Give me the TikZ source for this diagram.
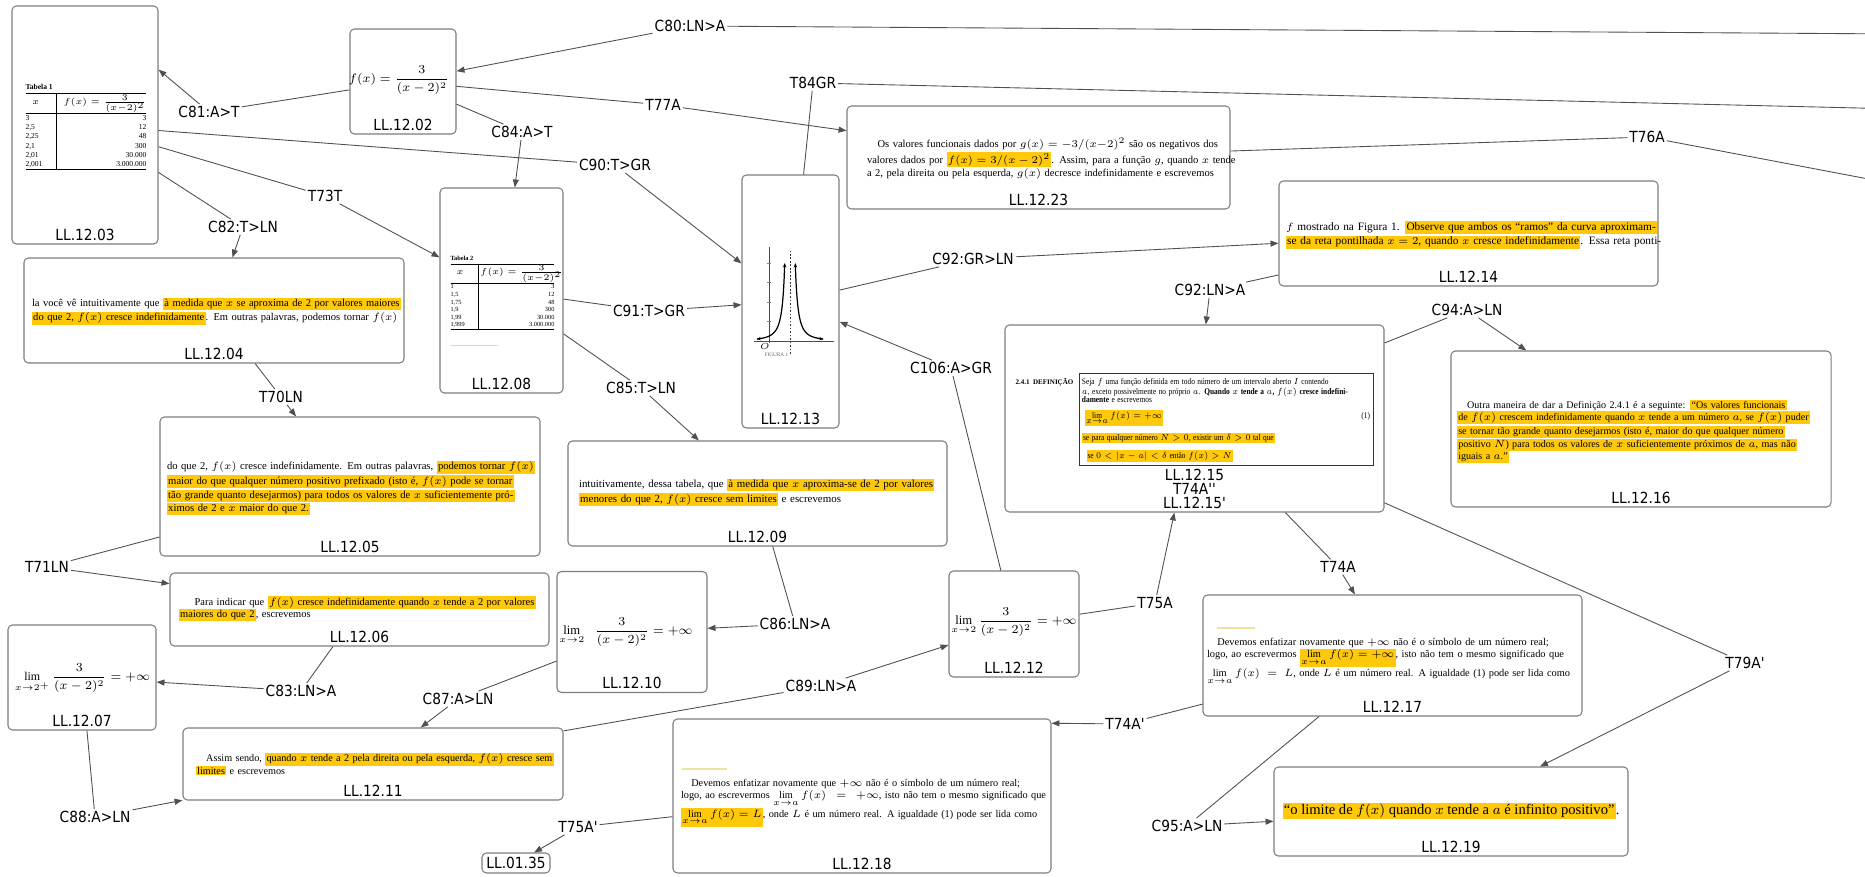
\documentclass[tikz,border=0pt]{standalone}
\usepackage{fontspec}
\usepackage{amsmath}
\usepackage{array}
\usepackage{xcolor}
\usetikzlibrary{arrows.meta, positioning, calc}
\setmainfont{Liberation Serif}
\newfontfamily\lblfont[FakeStretch=0.9]{DejaVu Sans}
\newfontfamily\bookfont[Ligatures=TeX]{Liberation Serif}
\definecolor{cmapLine}{RGB}{80,80,80}
\definecolor{cmapBorder}{RGB}{125,125,125}
\definecolor{cmapYellow}{RGB}{255,200,10}
\definecolor{cmapPale}{RGB}{238,226,160}
\newcommand{\hilite}[1]{{\setlength{\fboxsep}{0.7pt}\colorbox{cmapYellow}{#1}}}
\newcommand{\fullline}[1]{\par\noindent\hbox to \hsize{#1}}
\newcommand{\lastline}[1]{\par\noindent\hbox{#1}}

\begin{document}
\begin{tikzpicture}[
        concept/.style={rectangle, rounded corners=2.5pt, draw=cmapBorder, line width=0.6pt, inner sep=0pt},
        clabel/.style={font={\lblfont\fontsize{8.7}{8}\selectfont}, anchor=south, inner sep=2pt, align=center},
        phrase/.style={font={\lblfont\fontsize{8.7}{9}\selectfont}, inner sep=1pt},
        excerpt/.style={font={\bookfont\fontsize{6}{7.1}\selectfont}, align=left, inner sep=0pt},
        formula/.style={font={\fontsize{7.2}{8.6}\selectfont}, inner sep=0pt},
        tabela/.style={font={\bookfont\fontsize{4.3}{5.2}\selectfont}, align=left, inner sep=0pt},
        conn/.style={cmapLine, line width=0.5pt},
        arrow/.style={conn, -{Triangle[length=4.5pt, width=3.4pt]}}
    ]
        \useasboundingbox (0,0) rectangle (37.3,17.52);
        \fill[white] (0,0) rectangle (37.3,17.52);

        \node[concept, minimum width=2.92cm, minimum height=4.76cm] (ll1203) at (1.70,15.02) {};
        \node[concept, minimum width=2.12cm, minimum height=2.10cm] (ll1202) at (8.06,15.89) {};
        \node[concept, minimum width=7.66cm, minimum height=2.06cm] (ll1223) at (20.77,14.37) {};
        \node[concept, minimum width=2.46cm, minimum height=4.10cm] (ll1208) at (10.03,11.71) {};
        \node[concept, minimum width=1.94cm, minimum height=5.06cm] (ll1213) at (15.81,11.49) {};
        \node[concept, minimum width=7.60cm, minimum height=2.10cm] (ll1204) at (4.28,11.31) {};
        \node[concept, minimum width=7.60cm, minimum height=2.78cm] (ll1205) at (7.00,7.79) {};
        \node[concept, minimum width=7.58cm, minimum height=1.46cm] (ll1206) at (7.19,5.33) {};
        \node[concept, minimum width=2.96cm, minimum height=2.10cm] (ll1207) at (1.64,3.97) {};
        \node[concept, minimum width=7.60cm, minimum height=1.44cm] (ll1211) at (7.46,2.24) {};
        \node[concept, minimum width=3.00cm, minimum height=2.42cm] (ll1210) at (12.64,4.88) {};
        \node[concept, minimum width=7.58cm, minimum height=2.10cm] (ll1209) at (15.15,7.65) {};
        \node[concept, minimum width=2.60cm, minimum height=2.12cm] (ll1212) at (20.28,5.04) {};
        \node[concept, minimum width=7.56cm, minimum height=3.08cm] (ll1218) at (17.24,1.60) {};
        \node[concept, minimum width=7.58cm, minimum height=2.10cm] (ll1214) at (29.37,12.85) {};
        \node[concept, minimum width=7.58cm, minimum height=3.74cm] (ll1215) at (23.89,9.15) {};
        \node[concept, minimum width=7.60cm, minimum height=3.12cm] (ll1216) at (32.82,8.94) {};
        \node[concept, minimum width=7.58cm, minimum height=2.42cm] (ll1217) at (27.85,4.41) {};
        \node[concept, minimum width=7.08cm, minimum height=1.78cm] (ll1219) at (29.02,1.29) {};
        \node[concept, minimum width=1.36cm, minimum height=0.40cm, font={\lblfont\fontsize{8.7}{9}\selectfont}] (ll0135) at (10.32,0.26) {LL.01.35};

        \node[clabel] at (ll1203.south) {LL.12.03};
        \node[clabel] at (ll1202.south) {LL.12.02};
        \node[clabel] at (ll1223.south) {LL.12.23};
        \node[clabel] at (ll1208.south) {LL.12.08};
        \node[clabel] at (ll1213.south) {LL.12.13};
        \node[clabel] at (ll1204.south) {LL.12.04};
        \node[clabel] at (ll1205.south) {LL.12.05};
        \node[clabel] at (ll1206.south) {LL.12.06};
        \node[clabel] at (ll1207.south) {LL.12.07};
        \node[clabel] at (ll1211.south) {LL.12.11};
        \node[clabel] at (ll1210.south) {LL.12.10};
        \node[clabel] at (ll1209.south) {LL.12.09};
        \node[clabel] at (ll1212.south) {LL.12.12};
        \node[clabel] at (ll1218.south) {LL.12.18};
        \node[clabel] at (ll1214.south) {LL.12.14};
        \node[clabel] at (ll1215.south) {LL.12.15\\T74A''\\LL.12.15'};
        \node[clabel] at (ll1216.south) {LL.12.16};
        \node[clabel] at (ll1217.south) {LL.12.17};
        \node[clabel] at (ll1219.south) {LL.12.19};

        \node[formula, font={\fontsize{7}{8.4}\selectfont}] (f1202) at (7.98,15.92) {$f(x)=\dfrac{3}{(x-2)^2}$};
        \node[formula, font={\fontsize{6.8}{8.2}\selectfont}] (f1207) at (1.65,3.96) {$\lim\limits_{x\to2^+}\dfrac{3}{(x-2)^2}=+\infty$};
        \node[formula] (f1210) at (12.52,4.88) {$\lim\limits_{x\to2}\;\;\dfrac{3}{(x-2)^2}=+\infty$};
        \node[formula] (f1212) at (20.28,5.08) {$\lim\limits_{x\to2}\dfrac{3}{(x-2)^2}=+\infty$};

        \node[tabela] (tab1) at (1.72,14.98) {\textbf{Tabela 1}\\[1pt]
            \setlength{\tabcolsep}{1.5pt}%
            \begin{tabular}{@{}>{\raggedright\arraybackslash}p{0.55cm}|>{\raggedleft\arraybackslash}p{1.75cm}@{}}
            \hline
            \hfil$x$\hfil & \mbox{$f(x)=\frac{3}{(x-2)^2}$}\rule[-3pt]{0pt}{9pt}\\
            \noalign{\hrule height 0.6pt}
            3 & 3\\ 2,5 & 12\\ 2,25 & 48\\ 2,1 & 300\\ 2,01 & 30.000\\ 2,001 & 3.000.000\\
            \hline
            \end{tabular}};
        \node[tabela, font={\bookfont\fontsize{3.6}{4.3}\selectfont}] (tab2) at (10.05,11.66) {\textbf{Tabela 2}\\[1pt]
            \setlength{\tabcolsep}{1.2pt}%
            \begin{tabular}{@{}>{\raggedright\arraybackslash}p{0.5cm}|>{\raggedleft\arraybackslash}p{1.48cm}@{}}
            \hline
            \hfil$x$\hfil & \mbox{$f(x)=\frac{3}{(x-2)^2}$}\rule[-2.5pt]{0pt}{7.5pt}\\
            \noalign{\hrule height 0.5pt}
            1 & 3\\ 1,5 & 12\\ 1,75 & 48\\ 1,9 & 300\\ 1,99 & 30.000\\ 1,999 & 3.000.000\\
            \hline
            \end{tabular}};
        \draw[black!15, line width=0.4pt] (9.0,10.62) -- (9.96,10.62);

        \begin{scope}[shift={(15.38,10.70)}, x=0.21cm, y=0.13cm]
            \draw[black!70, line width=0.3pt] (0,-0.3) -- (0,14.5);
            \foreach \k in {3,6,9,12}
                \draw[black!50, line width=0.3pt] (-0.15,\k) -- (0.15,\k);
            \draw[black!70, line width=0.3pt] (-1.4,0) -- (6.2,0);
            \draw[black!80, line width=0.3pt, dash pattern=on 1pt off 1pt] (2,-2) -- (2,13.8);
            \draw[black, line width=0.7pt, {Stealth[length=2.5pt]}-{Stealth[length=2.5pt]}] plot[domain=-1.2:1.5, samples=40, smooth] (\x,{3/((\x-2)^2)});
            \draw[black, line width=0.7pt, {Stealth[length=2.5pt]}-{Stealth[length=2.5pt]}] plot[domain=2.5:5.2, samples=40, smooth] (\x,{3/((\x-2)^2)});
            \node[font={\fontsize{3.5}{3.5}\selectfont}, inner sep=0pt] at (-0.4,-0.8) {$O$};
            \node[font={\fontsize{3}{3}\selectfont}, text=black!60, inner sep=0pt] at (0.7,-2.1) {FIGURA 1};
        \end{scope}

        \node[excerpt, text width=7.0cm] (x1223) at (20.84,14.38) {%
            \fullline{\hspace*{1em}Os valores funcionais dados por $g(x)=-3/(x-2)^2$ são os negativos dos}
            \fullline{valores dados por \hilite{$f(x)=3/(x-2)^2$}. Assim, para a função $g$, quando $x$ tende}
            \fullline{a 2, pela direita ou pela esquerda, $g(x)$ decresce indefinidamente e escrevemos}};
        \node[excerpt, font={\bookfont\fontsize{6.45}{7.3}\selectfont}, text width=7.3cm] (x1214) at (29.37,12.86) {%
            \fullline{$f$ mostrado na Figura 1. \hilite{Observe que ambos os ``ramos'' da curva aproximam-}}
            \fullline{\hilite{se da reta pontilhada $x=2$, quando $x$ cresce indefinidamente}. Essa reta ponti-}};
        \node[excerpt, text width=7.34cm] (x1204) at (4.31,11.33) {%
            \fullline{la você vê intuitivamente que \hilite{à medida que $x$ se aproxima de 2 por valores maiores}}
            \fullline{\hilite{do que 2, $f(x)$ cresce indefinidamente}. Em outras palavras, podemos tornar $f(x)$}};
        \node[excerpt, font={\bookfont\fontsize{6.05}{7.1}\selectfont}, text width=7.32cm] (x1205) at (7.00,7.80) {%
            \fullline{do que 2, $f(x)$ cresce indefinidamente. Em outras palavras, \hilite{podemos tornar $f(x)$}}
            \fullline{\hilite{maior do que qualquer número positivo prefixado (isto é, $f(x)$ pode se tornar}}
            \fullline{\hilite{tão grande quanto desejarmos) para todos os valores de $x$ suficientemente pró-}}
            \lastline{\hilite{ximos de 2 e $x$ maior do que 2.}}};
        \node[excerpt, font={\bookfont\fontsize{5.95}{7.1}\selectfont}, text width=7.08cm] (x1206) at (7.12,5.38) {%
            \fullline{\hspace*{1.5em}Para indicar que \hilite{$f(x)$ cresce indefinidamente quando $x$ tende a 2 por valores}}
            \lastline{\hilite{maiores do que 2}, escrevemos}};
        \node[excerpt, font={\bookfont\fontsize{6.2}{7.2}\selectfont}, text width=7.3cm] (x1209) at (15.23,7.71) {%
            \fullline{intuitivamente, dessa tabela, que \hilite{à medida que $x$ aproxima-se de 2 por valores}}
            \lastline{\hilite{menores do que 2, $f(x)$ cresce sem limites} e escrevemos}};
        \node[excerpt, font={\bookfont\fontsize{5.8}{7}\selectfont}, text width=7.2cm] (x1211) at (7.52,2.27) {%
            \fullline{\hspace*{1em}Assim sendo, \hilite{quando $x$ tende a 2 pela direita ou pela esquerda, $f(x)$ cresce sem}}
            \lastline{\hilite{limites} e escrevemos}};
        \node[excerpt, font={\bookfont\fontsize{5.85}{7}\selectfont}, anchor=north, text width=7.3cm] (x1218) at (17.27,2.04) {%
            \fullline{\hspace*{1em}Devemos enfatizar novamente que $+\infty$ não é o símbolo de um número real;}
            \fullline{logo, ao escrevermos $\lim\limits_{x\to a} f(x)=+\infty$, isto não tem o mesmo significado que}
            \fullline{\hilite{$\lim\limits_{x\to a} f(x)=L$}, onde $L$ é um número real. A igualdade (1) pode ser lida como}};
        \node[excerpt, font={\bookfont\fontsize{5.9}{7}\selectfont}, anchor=north, text width=7.26cm] (x1217) at (27.77,4.86) {%
            \fullline{\hspace*{1em}Devemos enfatizar novamente que $+\infty$ não é o símbolo de um número real;}
            \fullline{logo, ao escrevermos \hilite{$\lim\limits_{x\to a} f(x)=+\infty$}, isto não tem o mesmo significado que}
            \fullline{$\lim\limits_{x\to a} f(x)=L$, onde $L$ é um número real. A igualdade (1) pode ser lida como}};
        \node[excerpt, text width=7.36cm, font={\bookfont\fontsize{5.75}{6.5}\selectfont}] (x1216) at (32.82,8.92) {%
            \fullline{\hspace*{1em}Outra maneira de dar a Definição 2.4.1 é a seguinte: \hilite{``Os valores funcionais}}
            \fullline{\hilite{de $f(x)$ crescem indefinidamente quando $x$ tende a um número $a$, se $f(x)$ puder}}
            \fullline{\hilite{se tornar tão grande quanto desejarmos (isto é, maior do que qualquer número}}
            \fullline{\hilite{positivo $N$) para todos os valores de $x$ suficientemente próximos de $a$, mas não}}
            \lastline{\hilite{iguais a $a$.''}}};
        \node[excerpt, align=center, font={\bookfont\fontsize{8.3}{9}\selectfont}] (x1219) at (29.02,1.30) {\hilite{``o limite de $f(x)$ quando $x$ tende a $a$ é infinito positivo''}.};
        \draw[cmapPale, line width=0.8pt] (13.64,2.14) -- (14.54,2.14);
        \draw[cmapPale, line width=0.8pt] (24.34,4.96) -- (25.10,4.96);

        \node[draw=black!80, line width=0.3pt, inner sep=2pt, text width=6.7cm, minimum height=1.68cm, align=left, xscale=0.86, transform shape, font={\bookfont\fontsize{4.9}{4.7}\selectfont}] (def241) at (24.52,9.14) {%
            \fullline{Seja $f$ uma função definida em todo número de um intervalo aberto $I$ contendo}
            \fullline{$a$, exceto possivelmente no próprio $a$. \textbf{Quando $x$ tende a $a$, $f(x)$ cresce indefini-}}
            \lastline{\textbf{damente} e escrevemos}
            \par\vspace{4pt}
            \fullline{\hspace*{2pt}\hilite{$\lim\limits_{x\to a} f(x)=+\infty$}\hfill(1)}
            \par\vspace{3pt}
            \lastline{\hilite{se para qualquer número $N>0$, existir um $\delta>0$ tal que}}
            \par\vspace{3pt}
            \lastline{\hspace*{3pt}\hilite{se $0<|x-a|<\delta$ então $f(x)>N$}}};
        \node[font={\bookfont\bfseries\fontsize{4}{4}\selectfont}, anchor=north east, inner sep=0pt] (def241lbl) at ([xshift=-0.1cm, yshift=-0.12cm]def241.north west) {2.4.1\hspace{2pt}DEFINIÇÃO};

        \node[phrase] (c80) at (13.80,17.00) {C80:LN>A};
        \node[phrase] (c81) at (4.18,15.28) {C81:A>T};
        \node[phrase] (c84) at (10.44,14.88) {C84:A>T};
        \node[phrase] (c90) at (12.30,14.22) {C90:T>GR};
        \node[phrase] (t73) at (6.50,13.60) {T73T};
        \node[phrase] (c82) at (4.86,12.98) {C82:T>LN};
        \node[phrase] (t77) at (13.26,15.42) {T77A};
        \node[phrase] (t84) at (16.26,15.86) {T84GR};
        \node[phrase] (c92a) at (19.46,12.34) {C92:GR>LN};
        \node[phrase] (c92b) at (24.20,11.72) {C92:LN>A};
        \node[phrase] (t76) at (32.94,14.78) {T76A};
        \node[phrase] (t70) at (5.62,9.58) {T70LN};
        \node[phrase] (t71) at (0.94,6.18) {T71LN};
        \node[phrase] (c91) at (12.98,11.30) {C91:T>GR};
        \node[phrase] (c85) at (12.82,9.76) {C85:T>LN};
        \node[phrase] (c106) at (19.02,10.16) {C106:A>GR};
        \node[phrase] (c94) at (29.34,11.32) {C94:A>LN};
        \node[phrase] (c83) at (6.02,3.70) {C83:LN>A};
        \node[phrase] (c87) at (9.16,3.54) {C87:A>LN};
        \node[phrase] (c88) at (1.90,1.18) {C88:A>LN};
        \node[phrase] (t75p) at (11.56,0.98) {T75A'};
        \node[phrase] (c86) at (15.90,5.04) {C86:LN>A};
        \node[phrase] (c89) at (16.42,3.80) {C89:LN>A};
        \node[phrase] (t75) at (23.10,5.46) {T75A};
        \node[phrase] (t74p) at (22.50,3.04) {T74A'};
        \node[phrase] (c95) at (23.74,1.00) {C95:A>LN};
        \node[phrase] (t74) at (26.76,6.18) {T74A};
        \node[phrase] (t79) at (34.90,4.26) {T79A'};

        \coordinate (offR1) at (38.0,16.84);
        \coordinate (offR2) at (38.0,15.34);
        \coordinate (offR3) at (38.0,13.82);

        \draw[conn] (c80) -- (offR1);
        \draw[arrow] (c80) -- (ll1202);
        \draw[conn] (ll1202) -- (c81);
        \draw[arrow] (c81) -- (ll1203.37);
        \draw[conn] (ll1202) -- (c84);
        \draw[arrow] (c84) -- (ll1208);
        \draw[conn] (ll1203) -- (c90);
        \draw[arrow] (c90) -- (ll1213);
        \draw[conn] (ll1203) -- (t73);
        \draw[arrow] (t73) -- (ll1208);
        \draw[conn] (ll1203) -- (c82);
        \draw[arrow] (c82) -- (ll1204);
        \draw[conn] (ll1202) -- (t77);
        \draw[arrow] (t77) -- (ll1223);
        \draw[conn] (ll1213) -- (t84);
        \draw[conn] (t84) -- (offR2);
        \draw[conn] (ll1223) -- (t76);
        \draw[conn] (t76) -- (offR3);
        \draw[conn] (ll1208) -- (c91);
        \draw[arrow] (c91) -- (ll1213);
        \draw[conn] (ll1208) -- (c85);
        \draw[arrow] (c85) -- (ll1209);
        \draw[conn] (ll1212) -- (c106);
        \draw[arrow] (c106) -- (ll1213);
        \draw[conn] (ll1213) -- (c92a);
        \draw[arrow] (c92a) -- (ll1214);
        \draw[conn] (ll1214) -- (c92b);
        \draw[arrow] (c92b) -- (ll1215);
        \draw[conn] (ll1215) -- (c94);
        \draw[arrow] (c94) -- (ll1216);
        \draw[conn] (ll1204) -- (t70);
        \draw[arrow] (t70) -- (ll1205);
        \draw[conn] (ll1205) -- (t71);
        \draw[arrow] (t71) -- (ll1206);
        \draw[conn] (ll1206) -- (c83);
        \draw[arrow] (c83) -- (ll1207);
        \draw[conn] (ll1207) -- (c88);
        \draw[arrow] (c88) -- (ll1211);
        \draw[conn] (ll1209) -- (c86);
        \draw[arrow] (c86) -- (ll1210);
        \draw[conn] (ll1210) -- (c87);
        \draw[arrow] (c87) -- (ll1211);
        \draw[conn] (ll1211) -- (c89);
        \draw[arrow] (c89) -- (ll1212);
        \draw[conn] (ll1212) -- (t75);
        \draw[arrow] (t75) -- (ll1215);
        \draw[conn] (ll1215) -- (t74);
        \draw[arrow] (t74) -- (ll1217);
        \draw[conn] (ll1215) -- (t79);
        \draw[arrow] (t79) -- (ll1219);
        \draw[conn] (ll1217) -- (t74p);
        \draw[arrow] (t74p) -- (ll1218.21);
        \draw[conn] (ll1218) -- (t75p);
        \draw[arrow] (t75p) -- (ll0135);
        \draw[conn] (ll1217) -- (c95);
        \draw[arrow] (c95) -- (ll1219);
    \end{tikzpicture}
\end{document}
